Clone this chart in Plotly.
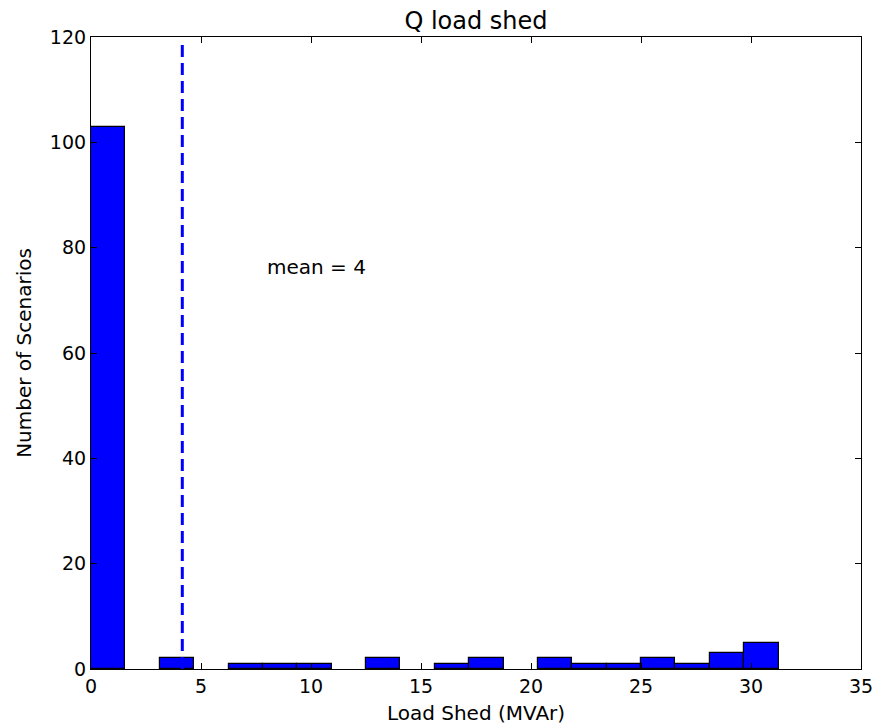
import numpy as np
import plotly.graph_objects as go

bin_start = 0.0
bin_width = 1.5625
counts = [103, 0, 2, 0, 1, 1, 1, 0, 2, 0, 1, 2, 0, 2, 1, 1, 2, 1, 3, 5]
mean_value = 4.15
mean_label = "mean = 4"
x_ticks = [0, 5, 10, 15, 20, 25, 30, 35]
y_ticks = [0, 20, 40, 60, 80, 100, 120]

edges = bin_start + bin_width * np.arange(len(counts) + 1)
centers = (edges[:-1] + edges[1:]) / 2
shown = [c if c > 0 else None for c in counts]

font = "DejaVu Sans, Liberation Sans, sans-serif"

fig = go.Figure()
fig.add_trace(go.Bar(
    x=centers, y=shown, width=bin_width,
    marker=dict(color="#0000ff", line=dict(color="black", width=1.2)),
    showlegend=False,
))
fig.add_trace(go.Scatter(
    x=[mean_value, mean_value], y=[0, 119], mode="lines",
    line=dict(color="#0000ff", width=3, dash="12px,6px"),
    showlegend=False,
))
fig.add_annotation(
    x=7.9, y=76.3, text=mean_label, showarrow=False,
    xanchor="left", yanchor="middle",
    font=dict(family=font, size=20, color="black"),
)

axis_common = dict(
    showgrid=False, zeroline=False, showline=True, linecolor="black",
    linewidth=1.2, mirror="allticks", ticks="inside", ticklen=6,
    tickcolor="black", tickfont=dict(family=font, size=19, color="black"),
    automargin=False,
)
fig.update_xaxes(range=[0, 35], tickvals=x_ticks,
                 title=dict(text="Load Shed (MVAr)", font=dict(family=font, size=20, color="black"), standoff=10),
                 **axis_common)
fig.update_yaxes(range=[0, 120], tickvals=y_ticks,
                 title=dict(text="Number of Scenarios", font=dict(family=font, size=20, color="black"), standoff=12),
                 **axis_common)

fig.update_layout(
    width=879, height=718,
    margin=dict(l=83, r=26, t=29, b=57),
    plot_bgcolor="white", paper_bgcolor="white",
    title=dict(text="Q load shed", x=(83 + (879 - 83 - 26) / 2) / 879, xanchor="center",
               y=1 - 13 / 718, yanchor="middle",
               font=dict(family=font, size=24, color="black")),
    bargap=0,
)
fig.write_html("out.html")
